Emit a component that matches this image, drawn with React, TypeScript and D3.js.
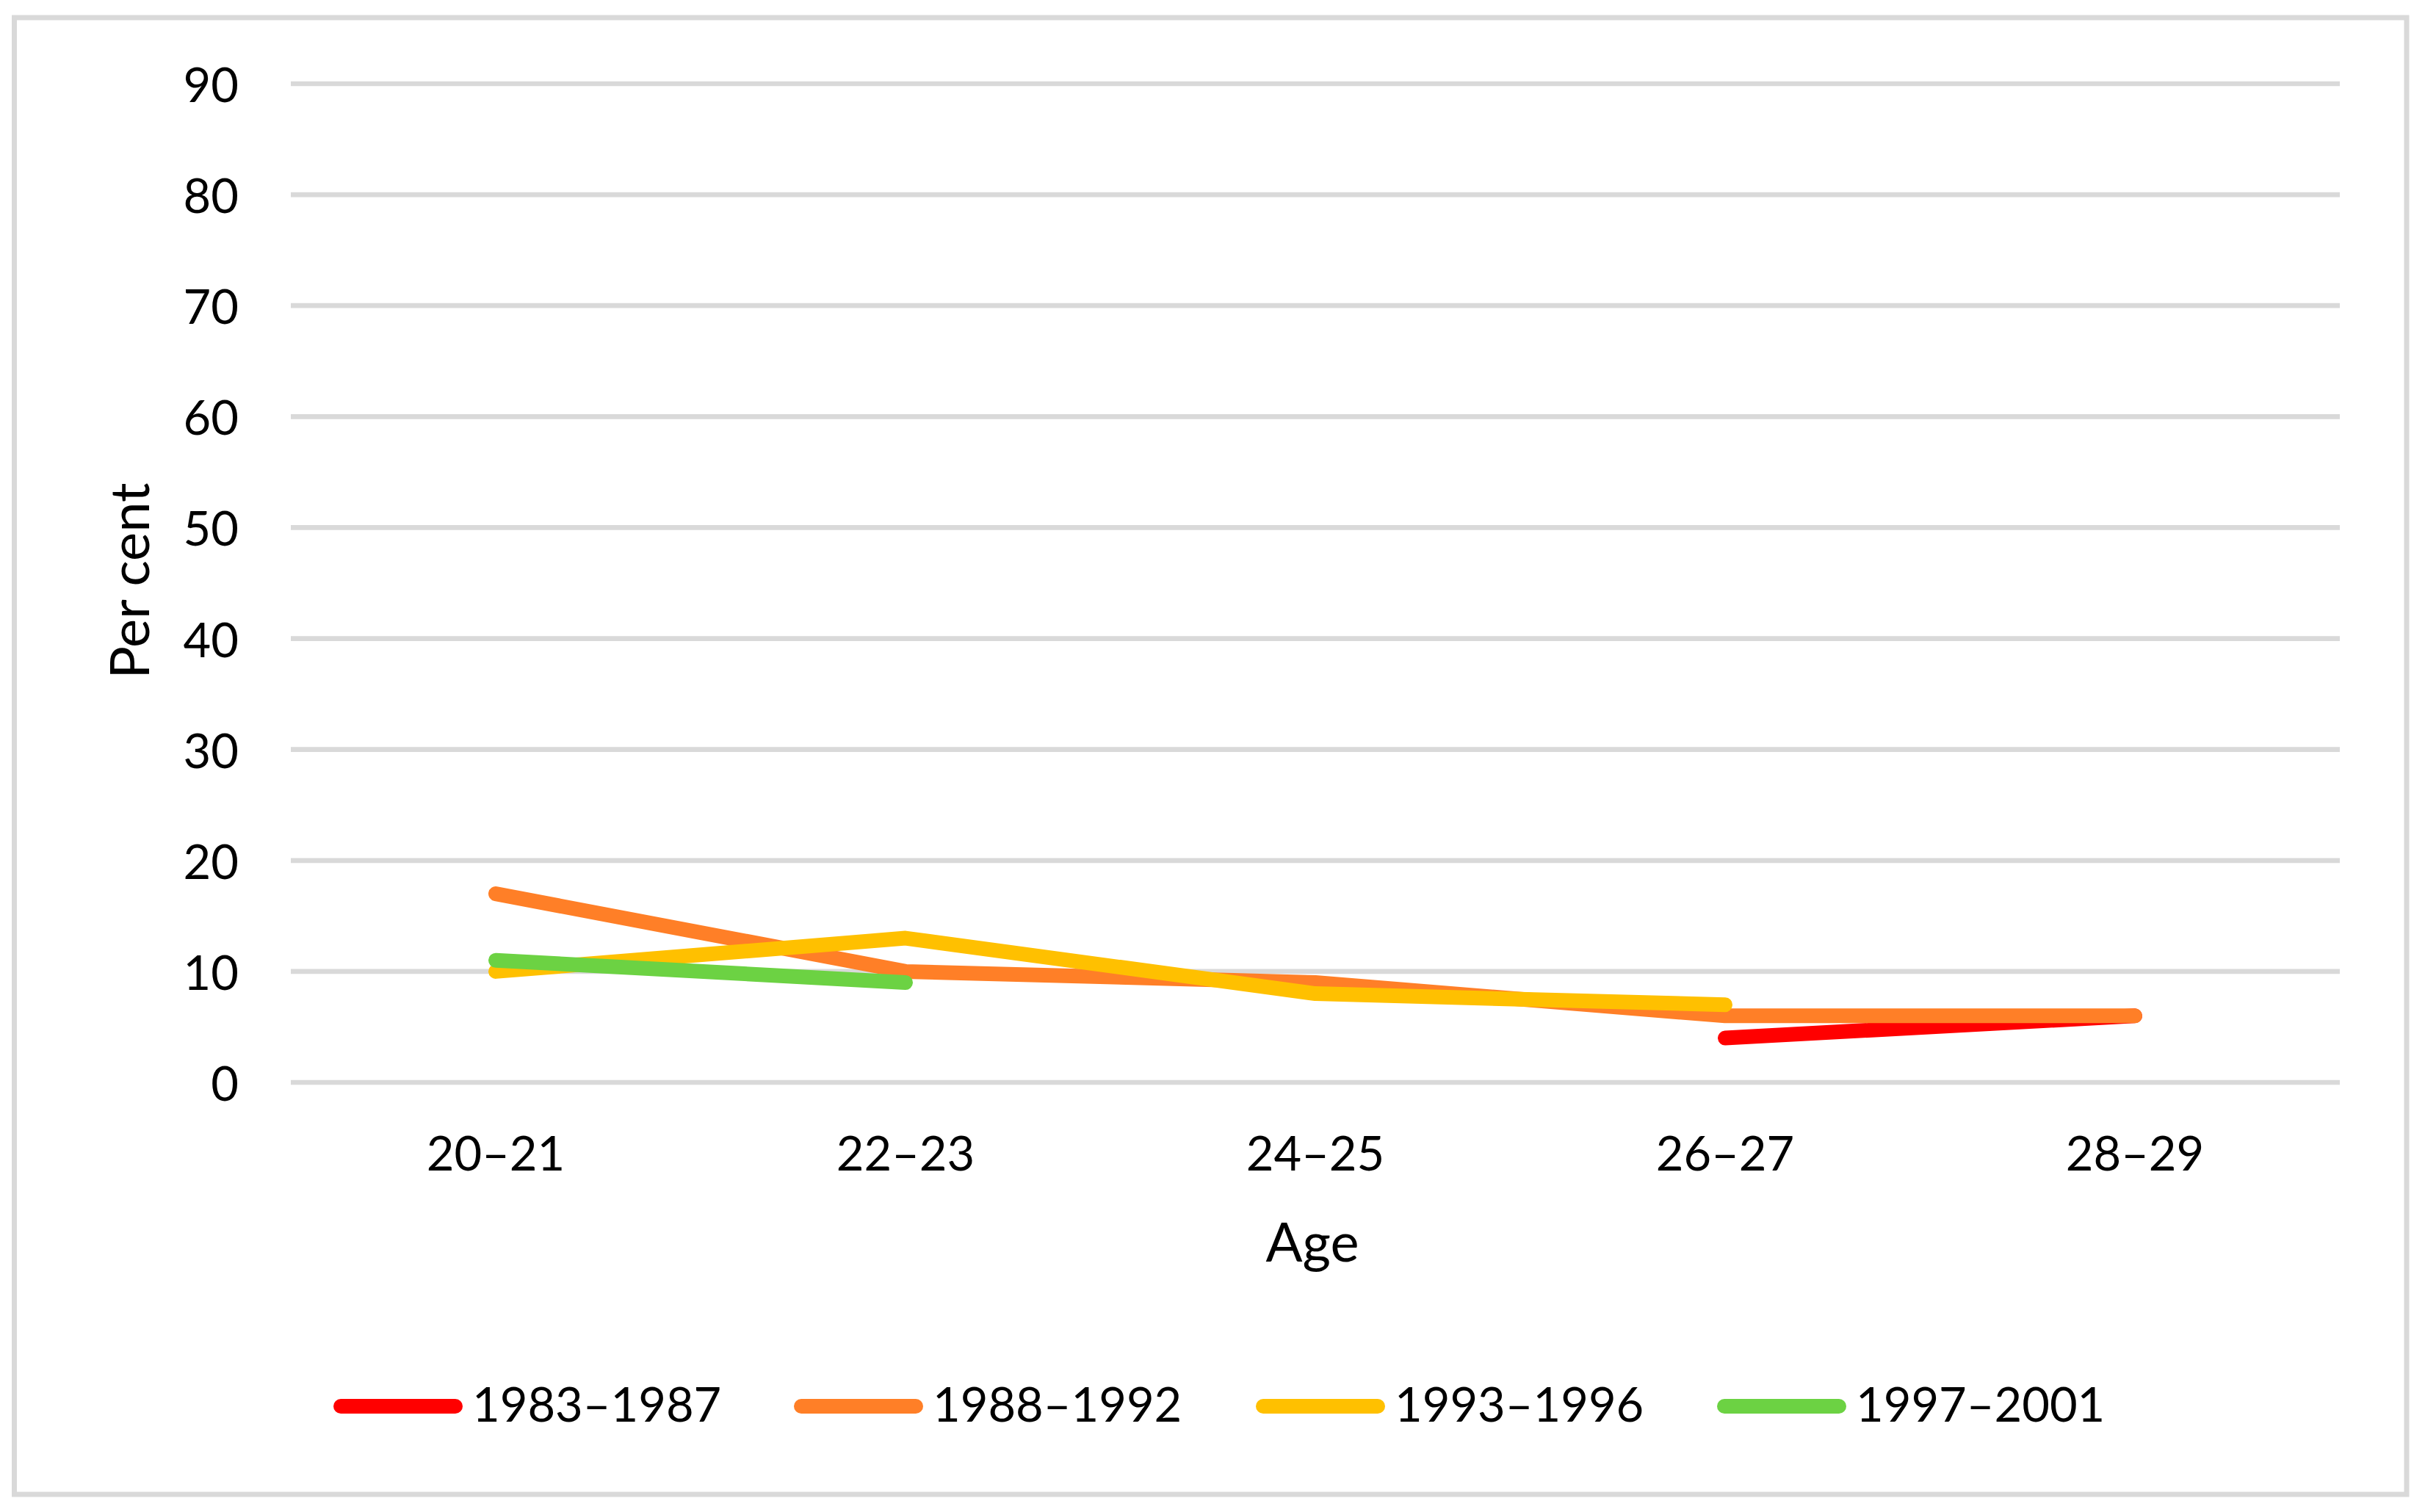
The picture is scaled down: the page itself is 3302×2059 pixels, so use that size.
import React from "react";
import * as d3 from "d3";

const categories = ["20–21", "22–23", "24–25", "26–27", "28–29"];
const seriesNames = ["1983–1987", "1988–1992", "1993–1996", "1997–2001"];
const seriesColors = ["#FF0000", "#FF7F27", "#FFC000", "#6CD243"];
const s1983: (number | null)[] = [null, null, null, 4, 6];
const s1988: (number | null)[] = [17, 10, 9, 6, 6];
const s1993: (number | null)[] = [10, 13, 8, 7, null];
const s1997: (number | null)[] = [11, 9, null, null, null];
const seriesValues = [s1983, s1988, s1993, s1997];
const yTicks = [0, 10, 20, 30, 40, 50, 60, 70, 80, 90];

const W = 3302;
const H = 2059;
const FONT = "Lato, 'Open Sans', sans-serif";

export default function App() {
  const x = d3.scaleBand<string>().domain(categories).range([396, 3186]).padding(0);
  const y = d3.scaleLinear().domain([0, 90]).range([1474, 114]);
  const cx = (c: string) => (x(c) as number) + x.bandwidth() / 2;

  const line = d3
    .line<number | null>()
    .defined((d) => d !== null)
    .x((_, i) => cx(categories[i]))
    .y((d) => y(d as number));

  const legendX = [454, 1081, 1710, 2338];

  return (
    <svg
      width={W}
      height={H}
      style={{ position: "absolute", left: 0, top: 0, display: "block", background: "#fff" }}
    >
      <rect x={0} y={0} width={W} height={H} fill="#fff" />
      <rect x={19.5} y={24} width={3257.5} height={2011} fill="none" stroke="#D9D9D9" strokeWidth={7} />
      {yTicks.map((t) => (
        <g key={t}>
          <line x1={396} x2={3186} y1={y(t)} y2={y(t)} stroke="#D9D9D9" strokeWidth={6.7} />
          <text
            x={325}
            y={y(t)}
            textAnchor="end"
            dominantBaseline="central"
            fontFamily={FONT}
            fontSize={65}
            fill="#000"
          >
            {t}
          </text>
        </g>
      ))}
      {categories.map((c) => (
        <text key={c} x={cx(c)} y={1594} textAnchor="middle" fontFamily={FONT} fontSize={65} fill="#000">
          {c}
        </text>
      ))}
      <text x={1787} y={1718} textAnchor="middle" fontFamily={FONT} fontSize={74} fill="#000">
        Age
      </text>
      <text
        transform="translate(203,791) rotate(-90)"
        x={0}
        y={0}
        textAnchor="middle"
        fontFamily={FONT}
        fontSize={74}
        fill="#000"
      >
        Per cent
      </text>
      {seriesValues.map((vals, i) => (
        <path
          key={seriesNames[i]}
          d={line(vals) || ""}
          fill="none"
          stroke={seriesColors[i]}
          strokeWidth={20}
          strokeLinecap="round"
          strokeLinejoin="round"
        />
      ))}
      {seriesNames.map((n, i) => (
        <g key={n}>
          <line
            x1={legendX[i] + 10}
            x2={legendX[i] + 166}
            y1={1915}
            y2={1915}
            stroke={seriesColors[i]}
            strokeWidth={20}
            strokeLinecap="round"
          />
          <text x={legendX[i] + 189} y={1936} fontFamily={FONT} fontSize={65} fill="#000">
            {n}
          </text>
        </g>
      ))}
    </svg>
  );
}
